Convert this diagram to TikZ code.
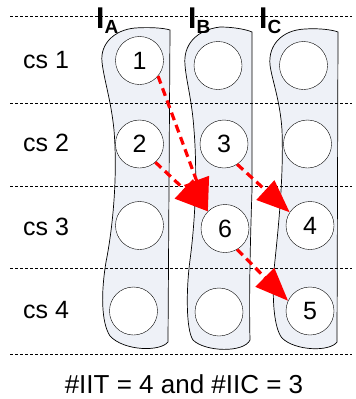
\documentclass[tikz,border=0pt]{standalone}
\usepackage{fontspec}
\setmainfont{Liberation Sans}
\usetikzlibrary{arrows.meta,positioning}
\definecolor{lanefill}{RGB}{238,241,247}
\tikzstyle{slot}    = [draw, circle, fill=white, minimum size=48pt, inner sep=0pt, font=\fontsize{25}{25}\selectfont]
\tikzstyle{flow}    = [draw=red, line width=3.2pt, dash pattern=on 8pt off 5pt, -{Triangle[length=33pt,width=26pt]}]
\tikzstyle{lane}    = [draw, line width=0.7pt, fill=lanefill]
\tikzstyle{rowsep}  = [draw, line width=0.6pt, dash pattern=on 3pt off 2pt]
\tikzstyle{rowtext} = [font=\fontsize{25}{25}\selectfont]
\tikzstyle{headtext}= [anchor=base west, inner sep=0pt]
\newcommand{\lanehead}[1]{{\fontsize{30}{30}\selectfont\bfseries I}\raisebox{-5pt}{\fontsize{19}{19}\selectfont\bfseries #1}}

\begin{document}
\begin{tikzpicture}[x=1pt, y=-1pt, node distance=83.5pt]
	\useasboundingbox (0,0) rectangle (356,399);
	% Lanes %
	\path [lane] (102,62) .. controls (100,44) and (114,30) .. (135,28)
		.. controls (150,27) and (164,28) .. (170,30) -- (168,342)
		.. controls (160,352) and (124,351) .. (110,336)
		.. controls (101,322) and (101,292) .. (106,262)
		.. controls (112,232) and (118,180) .. (114,130)
		.. controls (111,100) and (104,80) .. (102,62) -- cycle;
	\path [lane] (185,65) .. controls (183,45) and (196,30) .. (220,27)
		.. controls (235,27) and (248,30) .. (252,32) -- (252,190)
		.. controls (250,250) and (249,300) .. (250,340)
		.. controls (244,353) and (205,352) .. (193,340)
		.. controls (186,330) and (186,290) .. (190,260)
		.. controls (194,230) and (198,180) .. (194,130)
		.. controls (192,100) and (186,80) .. (185,65) -- cycle;
	\path [lane] (270,65) .. controls (268,45) and (282,30) .. (305,29)
		.. controls (320,28) and (333,30) .. (338,32) -- (337,342)
		.. controls (330,352) and (295,351) .. (282,338)
		.. controls (274,328) and (272,300) .. (274,270)
		.. controls (277,240) and (284,180) .. (282,130)
		.. controls (280,100) and (272,80) .. (270,65) -- cycle;
	% Row separators %
	\path [rowsep] (10,16)  -- (352,16);
	\path [rowsep] (10,103) -- (352,103);
	\path [rowsep] (10,186) -- (352,186);
	\path [rowsep] (10,268) -- (352,268);
	\path [rowsep] (10,354) -- (352,354);
	% Node Setting %
	\node [headtext] (hA) at (96,28)  {\lanehead{A}};
	\node [headtext] (hB) at (188,28) {\lanehead{B}};
	\node [headtext] (hC) at (259,28) {\lanehead{C}};
	\node [rowtext] (cs1) at (46,60)  {cs 1};
	\node [rowtext] (cs2) at (46,143) {cs 2};
	\node [rowtext] (cs3) at (46,227) {cs 3};
	\node [rowtext] (cs4) at (46,310) {cs 4};
	\node [slot] (a1) at (139.5,60.5) {1};
	\node [slot, below of = a1] (a2) {2};
	\node [slot, below of = a2, yshift=2pt] (a3) {};
	\node [slot, below of = a3, xshift=-6pt, yshift=-2pt] (a4) {};
	\node [slot, right of = a2, xshift=1pt] (b2) {3};
	\node [slot, above of = b2, xshift=-6pt, yshift=-5pt] (b1) {};
	\node [slot, below of = b2, xshift=1pt, yshift=-1pt] (b3) {6};
	\node [slot, below of = b3, xshift=-6pt] (b4) {};
	\node [slot, right of = b2] (c2) {};
	\node [slot, above of = c2, xshift=-4pt, yshift=-5pt] (c1) {};
	\node [slot, below of = c2, xshift=2.5pt, yshift=2pt] (c3) {4};
	\node [slot, below of = c3, yshift=-2pt] (c4) {5};
	\node [rowtext, font=\fontsize{26}{26}\selectfont] (total) at (184,384) {\#IIT = 4 and \#IIC = 3};
	% Connection %
	\path [flow] (a1.-40) -- (b3.135);
	\path [flow] (a2.-49) -- (b3.135);
	\path [flow] (b2.-57) -- (c3.147);
	\path [flow] (b3.-60) -- (c4.155);
\end{tikzpicture}
\end{document}
